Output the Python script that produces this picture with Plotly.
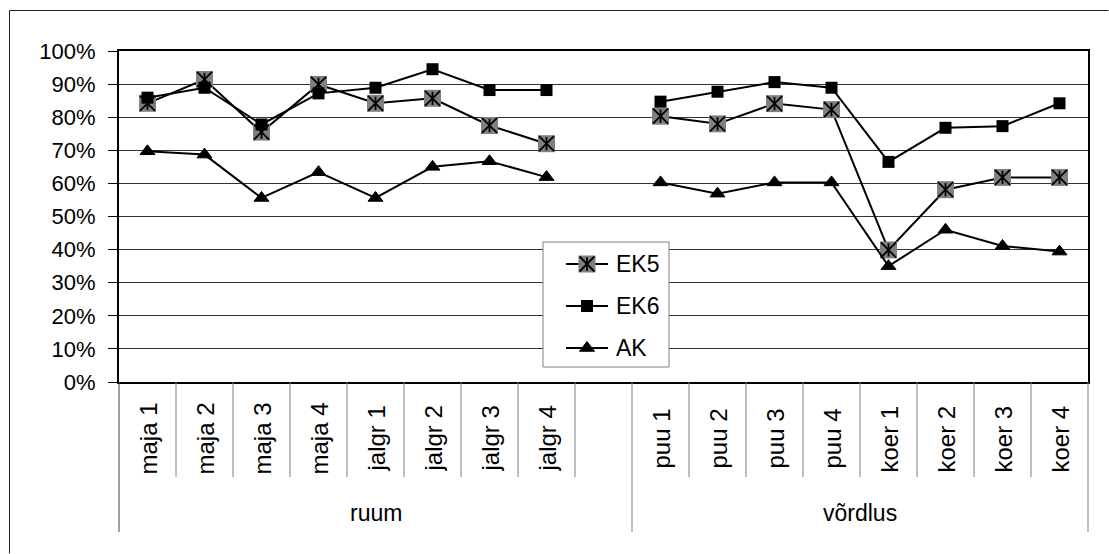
import plotly.graph_objects as go

# ---------------- data ----------------
ruum_labels = ["maja 1", "maja 2", "maja 3", "maja 4", "jalgr 1", "jalgr 2", "jalgr 3", "jalgr 4"]
vordlus_labels = ["puu 1", "puu 2", "puu 3", "puu 4", "koer 1", "koer 2", "koer 3", "koer 4"]
group_labels = ["ruum", "võrdlus"]
gap_label = " "
series_names = ["EK5", "EK6", "AK"]

ek5_ruum = [0.842, 0.914, 0.755, 0.899, 0.842, 0.857, 0.775, 0.720]
ek5_vordlus = [0.803, 0.780, 0.841, 0.823, 0.399, 0.581, 0.618, 0.618]
ek6_ruum = [0.859, 0.889, 0.778, 0.872, 0.889, 0.945, 0.882, 0.882]
ek6_vordlus = [0.847, 0.877, 0.906, 0.889, 0.665, 0.768, 0.773, 0.842]
ak_ruum = [0.697, 0.687, 0.556, 0.634, 0.556, 0.650, 0.667, 0.619]
ak_vordlus = [0.603, 0.569, 0.603, 0.603, 0.350, 0.460, 0.411, 0.394]

# ---------------- layout constants ----------------
W, H = 1109, 554
L, R, T, B = 119, 21, 51, 172
PW, PH = W - L - R, H - T - B
FONT = "Liberation Sans, Arial, sans-serif"
GRAY = "#808080"

def px_x(p):
    return (p - L) / PW

def px_y(p):
    return (H - B - p) / PH

categories = ruum_labels + [gap_label] + vordlus_labels
n = len(categories)

def full(r, v):
    return r + [None] + v

ek5 = full(ek5_ruum, ek5_vordlus)
ek6 = full(ek6_ruum, ek6_vordlus)
ak = full(ak_ruum, ak_vordlus)

fig = go.Figure()

# EK5: gray square with 6-arm asterisk
fig.add_trace(go.Scatter(x=categories, y=ek5, mode="lines+markers", name="EK5",
                         line=dict(color="black", width=2), connectgaps=False,
                         marker=dict(symbol="square", size=17, color=GRAY, line=dict(width=0)),
                         showlegend=False, cliponaxis=False))
fig.add_trace(go.Scatter(x=categories, y=ek5, mode="markers",
                         marker=dict(symbol="x-thin-open", size=15, color="black",
                                     line=dict(width=1.8, color="black")),
                         showlegend=False, cliponaxis=False))
fig.add_trace(go.Scatter(x=categories, y=ek5, mode="markers",
                         marker=dict(symbol="line-ns-open", size=9.5, color="black",
                                     line=dict(width=1.8, color="black")),
                         showlegend=False, cliponaxis=False))
# EK6
fig.add_trace(go.Scatter(x=categories, y=ek6, mode="lines+markers", name="EK6",
                         line=dict(color="black", width=2), connectgaps=False,
                         marker=dict(symbol="square", size=12, color="black", line=dict(width=0)),
                         showlegend=False, cliponaxis=False))
# AK
fig.add_trace(go.Scatter(x=categories, y=ak, mode="lines+markers", name="AK",
                         line=dict(color="black", width=2), connectgaps=False,
                         marker=dict(symbol="triangle-up", size=13, color="black",
                                     line=dict(width=1, color="black")),
                         showlegend=False, cliponaxis=False))

# ---------------- custom legend (sample glyphs on a small helper subplot) ----------------
leg_levels = [2, 1, 0]
for name, lvl in zip(series_names, leg_levels):
    fig.add_trace(go.Scatter(x=[0, 1], y=[lvl, lvl], mode="lines", xaxis="x2", yaxis="y2",
                             line=dict(color="black", width=2), showlegend=False,
                             hoverinfo="skip", cliponaxis=False))
fig.add_trace(go.Scatter(x=[0.5], y=[leg_levels[0]], mode="markers", xaxis="x2", yaxis="y2",
                         marker=dict(symbol="square", size=17, color=GRAY, line=dict(width=0)),
                         showlegend=False, hoverinfo="skip", cliponaxis=False))
fig.add_trace(go.Scatter(x=[0.5], y=[leg_levels[0]], mode="markers", xaxis="x2", yaxis="y2",
                         marker=dict(symbol="x-thin-open", size=15, color="black",
                                     line=dict(width=1.8, color="black")),
                         showlegend=False, hoverinfo="skip", cliponaxis=False))
fig.add_trace(go.Scatter(x=[0.5], y=[leg_levels[0]], mode="markers", xaxis="x2", yaxis="y2",
                         marker=dict(symbol="line-ns-open", size=9.5, color="black",
                                     line=dict(width=1.8, color="black")),
                         showlegend=False, hoverinfo="skip", cliponaxis=False))
fig.add_trace(go.Scatter(x=[0.5], y=[leg_levels[1]], mode="markers", xaxis="x2", yaxis="y2",
                         marker=dict(symbol="square", size=12, color="black", line=dict(width=0)),
                         showlegend=False, hoverinfo="skip", cliponaxis=False))
fig.add_trace(go.Scatter(x=[0.5], y=[leg_levels[2]], mode="markers", xaxis="x2", yaxis="y2",
                         marker=dict(symbol="triangle-up", size=13, color="black",
                                     line=dict(width=1, color="black")),
                         showlegend=False, hoverinfo="skip", cliponaxis=False))

shapes = []
annotations = []

# legend box (in data coordinates of the main subplot so it sits between grid and traces)
def data_x(p):
    return -0.5 + px_x(p) * n

shapes.append(dict(type="rect", xref="x", yref="y", layer="between",
                   x0=data_x(543), x1=data_x(669), y0=px_y(367), y1=px_y(242),
                   fillcolor="white", line=dict(color=GRAY, width=1)))
for name, ypx in zip(series_names, [264, 306, 348]):
    annotations.append(dict(text=name, xref="paper", yref="paper", x=px_x(614), y=px_y(ypx),
                            xanchor="left", yanchor="middle", showarrow=False,
                            font=dict(family=FONT, size=23, color="black")))

# category-axis divider lines
low_short = px_y(477)
low_long = px_y(532)
group_bounds = [0, len(ruum_labels) + 1, n]
for i in range(n + 1):
    is_group = i in group_bounds
    shapes.append(dict(type="line", xref="paper", yref="paper", layer="above",
                       x0=i / n, x1=i / n, y0=0, y1=low_long if is_group else low_short,
                       line=dict(color="#404040" if i == 0 else GRAY, width=1)))

# category labels
for c in ruum_labels + vordlus_labels:
    annotations.append(dict(text=c, xref="x", yref="paper", x=c, y=px_y(439),
                            textangle=-90, xanchor="center", yanchor="middle", showarrow=False,
                            font=dict(family=FONT, size=24, color="black")))
# group labels
for g, (a, b) in zip(group_labels, [(group_bounds[0], group_bounds[1]), (group_bounds[1], group_bounds[2])]):
    annotations.append(dict(text=g, xref="paper", yref="paper", x=(a + b) / 2 / n, y=px_y(513),
                            xanchor="center", yanchor="middle", showarrow=False,
                            font=dict(family=FONT, size=23, color="black")))

# outer chart border: open path along left and top edges only
bx0, by_bottom, by_top, bx1 = px_x(9.5), px_y(H - 0.5), px_y(10.5), px_x(W - 0.5)
shapes.append(dict(type="path", xref="paper", yref="paper", layer="above",
                   path=f"M {bx0},{by_bottom} L {bx0},{by_top} L {bx1},{by_top}",
                   fillcolor="rgba(0,0,0,0)",
                   line=dict(color="#222222", width=1)))

fig.update_layout(
    width=W, height=H,
    margin=dict(l=L, r=R, t=T, b=B, pad=0),
    paper_bgcolor="white", plot_bgcolor="rgba(0,0,0,0)",
    font=dict(family=FONT, size=22, color="black"),
    showlegend=False,
    xaxis=dict(type="category", categoryorder="array", categoryarray=categories,
               range=[-0.5, n - 0.5], showticklabels=False, ticks="", showgrid=False,
               showline=True, mirror=True, linecolor="black", linewidth=2, zeroline=False,
               fixedrange=True),
    yaxis=dict(range=[0, 1], dtick=0.1, tick0=0, tickformat=".0%",
               showgrid=True, gridcolor="#333333", gridwidth=1,
               ticks="outside", ticklen=9, tickcolor="black", tickwidth=1,
               ticklabelstandoff=8,
               showline=True, mirror=True, linecolor="black", linewidth=2, zeroline=False,
               tickfont=dict(family=FONT, size=22, color="black"), fixedrange=True),
    xaxis2=dict(domain=[px_x(566), px_x(608)], range=[0, 1], anchor="y2", visible=False,
                fixedrange=True),
    yaxis2=dict(domain=[px_y(362), px_y(250)], range=[-1 / 3, 7 / 3], anchor="x2", visible=False,
                fixedrange=True),
    shapes=shapes,
    annotations=annotations,
)

fig.write_html("out.html")
